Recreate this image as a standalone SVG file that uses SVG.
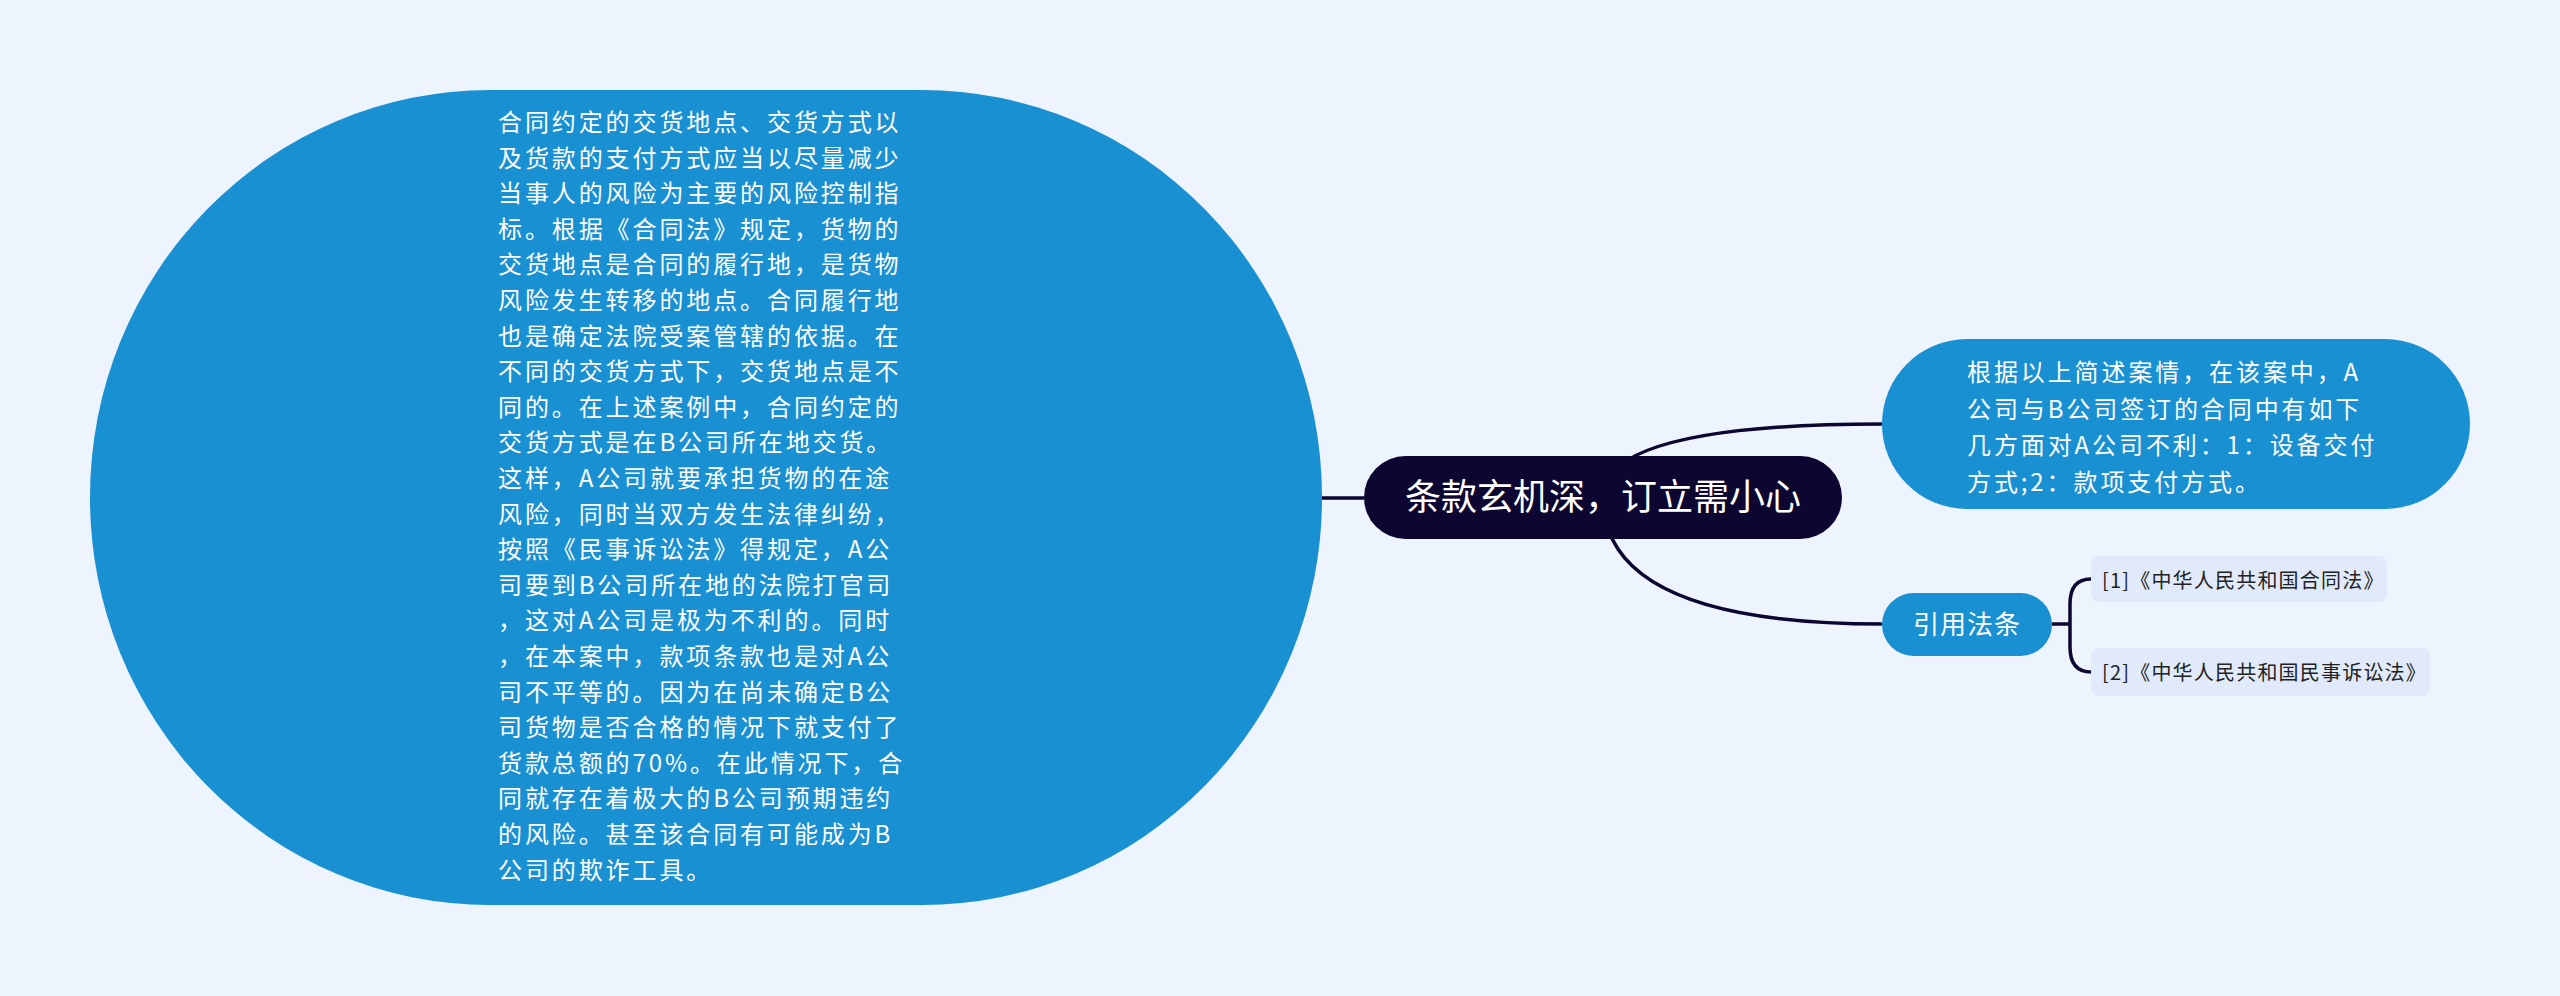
<svg xmlns="http://www.w3.org/2000/svg" width="2560" height="996" viewBox="0 0 2560 996">
<style>
.cn{font-family:"Noto Sans CJK SC","Noto Sans",sans-serif}
.body{font-size:24px;letter-spacing:2.9px;fill:#ffffff}
.leaf{font-size:20px;letter-spacing:1.2px;fill:#222222}
.conn{fill:none;stroke:#0c0630;stroke-width:3.5}
.blue{fill:#1890d2}
</style>
<rect x="0" y="0" width="2560" height="996" fill="#eef4fe"/>
<g id="connectors">
<path class="conn" d="M1322 498 H1364"/>
<path class="conn" d="M1603 497 Q1603 424 1882 424"/>
<path class="conn" d="M1603 497 Q1603 624 1882 624"/>
<path class="conn" d="M2052 624 H2070"/>
<path class="conn" d="M2091 579 C2076 579 2070 588 2070 604 L2070 647 C2070 663 2076 672 2091 672"/>
</g>
<g id="node-detail">
<rect class="blue" x="90" y="90" width="1232" height="815" rx="400" ry="407"/>
<text class="cn body" x="498">
<tspan x="498" y="131">合同约定的交货地点、交货方式以</tspan>
<tspan x="498" y="166.6">及货款的支付方式应当以尽量减少</tspan>
<tspan x="498" y="202.2">当事人的风险为主要的风险控制指</tspan>
<tspan x="498" y="237.8">标。根据《合同法》规定，货物的</tspan>
<tspan x="498" y="273.4">交货地点是合同的履行地，是货物</tspan>
<tspan x="498" y="309">风险发生转移的地点。合同履行地</tspan>
<tspan x="498" y="344.6">也是确定法院受案管辖的依据。在</tspan>
<tspan x="498" y="380.2">不同的交货方式下，交货地点是不</tspan>
<tspan x="498" y="415.8">同的。在上述案例中，合同约定的</tspan>
<tspan x="498" y="451.4">交货方式是在B公司所在地交货。</tspan>
<tspan x="498" y="487">这样，A公司就要承担货物的在途</tspan>
<tspan x="498" y="522.6">风险，同时当双方发生法律纠纷，</tspan>
<tspan x="498" y="558.2">按照《民事诉讼法》得规定，A公</tspan>
<tspan x="498" y="593.8">司要到B公司所在地的法院打官司</tspan>
<tspan x="498" y="629.4">，这对A公司是极为不利的。同时</tspan>
<tspan x="498" y="665">，在本案中，款项条款也是对A公</tspan>
<tspan x="498" y="700.6">司不平等的。因为在尚未确定B公</tspan>
<tspan x="498" y="736.2">司货物是否合格的情况下就支付了</tspan>
<tspan x="498" y="771.8">货款总额的70%。在此情况下，合</tspan>
<tspan x="498" y="807.4">同就存在着极大的B公司预期违约</tspan>
<tspan x="498" y="843">的风险。甚至该合同有可能成为B</tspan>
<tspan x="498" y="878.6">公司的欺诈工具。</tspan>
</text>
</g>
<g id="node-root">
<rect x="1364" y="456" width="478" height="83" rx="41.5" fill="#0c0630"/>
<text class="cn" x="1603" y="510" font-size="36" fill="#ffffff" text-anchor="middle">条款玄机深，订立需小心</text>
</g>
<g id="node-summary">
<rect class="blue" x="1882" y="339" width="588" height="170" rx="85"/>
<text class="cn body">
<tspan x="1967" y="381">根据以上简述案情，在该案中，A</tspan>
<tspan x="1967" y="417.6">公司与B公司签订的合同中有如下</tspan>
<tspan x="1967" y="454.2">几方面对A公司不利：1：设备交付</tspan>
<tspan x="1967" y="490.8">方式;2：款项支付方式。</tspan>
</text>
</g>
<g id="node-laws">
<rect class="blue" x="1882" y="593" width="170" height="63" rx="31.5"/>
<text class="cn" x="1967" y="634" font-size="26" letter-spacing="1" fill="#ffffff" text-anchor="middle">引用法条</text>
</g>
<g id="node-law1">
<rect x="2091" y="556" width="296" height="46" rx="8" fill="#e1eafb"/>
<text class="cn leaf" x="2102" y="588">[1]《中华人民共和国合同法》</text>
</g>
<g id="node-law2">
<rect x="2091" y="648" width="339" height="48" rx="8" fill="#e1eafb"/>
<text class="cn leaf" x="2102" y="680">[2]《中华人民共和国民事诉讼法》</text>
</g>
</svg>
